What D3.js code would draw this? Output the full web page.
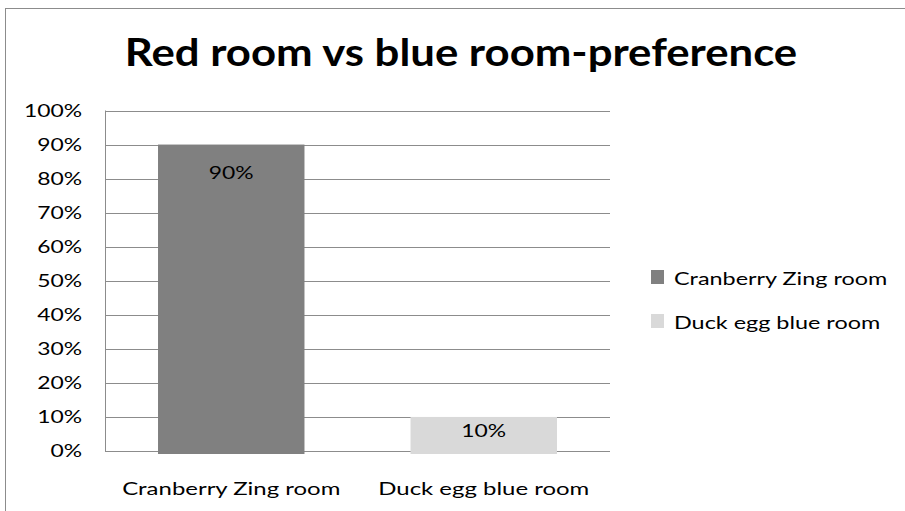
<!DOCTYPE html>
<html>
<head>
<meta charset="utf-8">
<script src="https://cdn.jsdelivr.net/npm/d3@7"></script>
<style>
  html, body { margin: 0; padding: 0; background: #fff; }
  svg { display: block; font-family: Lato, "Open Sans", sans-serif; }
</style>
</head>
<body>
<svg id="chart" width="905" height="511"></svg>
<script>
// Room preference survey
const categories = ["Cranberry Zing room", "Duck egg blue room"];
const shares = [0.9, 0.1];
const barColors = ["#808080", "#d9d9d9"];
const yTicks = [0, 0.1, 0.2, 0.3, 0.4, 0.5, 0.6, 0.7, 0.8, 0.9, 1.0];
const title = "Red room vs blue room-preference";

const svg = d3.select("#chart");

// Widen glyphs horizontally to get the broad, Calibri-like look
function stretch(sel, factor) {
  sel.each(function () {
    const w = this.getComputedTextLength();
    d3.select(this)
      .attr("textLength", w * factor)
      .attr("lengthAdjust", "spacingAndGlyphs");
  });
}

// Outer chart frame
svg.append("rect")
  .attr("x", 5.5).attr("y", 8.5)
  .attr("width", 1000).attr("height", 1000)
  .attr("fill", "none").attr("stroke", "#8c8c8c").attr("stroke-width", 1);

const plot = { left: 105, right: 610, top: 110.5, bottom: 451 };

const x = d3.scaleBand()
  .domain(categories)
  .range([plot.left, plot.right])
  .paddingInner(0.42)
  .paddingOuter(0.21);

const y = d3.scaleLinear().domain([0, 1]).range([plot.bottom, plot.top]);

// Horizontal gridlines
svg.append("g")
  .selectAll("line")
  .data(yTicks)
  .join("line")
  .attr("x1", plot.left).attr("x2", plot.right)
  .attr("y1", d => Math.round(y(d)) + 0.5).attr("y2", d => Math.round(y(d)) + 0.5)
  .attr("stroke", "#8c8c8c").attr("stroke-width", 1);

// Y axis with percentage labels
const yAxis = d3.axisLeft(y)
  .tickValues(yTicks)
  .tickFormat(d3.format(".0%"))
  .tickSize(0)
  .tickPadding(0);
const gy = svg.append("g")
  .attr("transform", `translate(${plot.left - 23},0)`)
  .call(yAxis);
gy.select(".domain").remove();
gy.selectAll("text")
  .attr("font-family", "Lato, sans-serif")
  .attr("font-size", 18)
  .attr("fill", "#000")
  .call(stretch, 1.27);

// Vertical axis line
svg.append("line")
  .attr("x1", plot.left + 0.5).attr("x2", plot.left + 0.5)
  .attr("y1", plot.top).attr("y2", plot.bottom)
  .attr("stroke", "#8c8c8c");

// Bars
svg.append("g")
  .selectAll("rect")
  .data(categories)
  .join("rect")
  .attr("x", d => x(d))
  .attr("width", x.bandwidth())
  .attr("y", (d, i) => y(shares[i]))
  .attr("height", (d, i) => y(0) - y(shares[i]) + 3)
  .attr("fill", (d, i) => barColors[i]);

// Value labels inside bars, near the top end
svg.append("g")
  .selectAll("text")
  .data(categories)
  .join("text")
  .attr("x", d => x(d) + x.bandwidth() / 2)
  .attr("y", (d, i) => y(shares[i]) + Math.min(34, (y(0) - y(shares[i])) * 0.6))
  .attr("text-anchor", "middle")
  .attr("font-size", 18)
  .attr("fill", "#000")
  .text((d, i) => d3.format(".0%")(shares[i]))
  .call(stretch, 1.27);

// Category labels
const xAxis = d3.axisBottom(x).tickSize(0).tickPadding(0);
const gx = svg.append("g")
  .attr("transform", `translate(0,${plot.bottom + 31})`)
  .call(xAxis);
gx.select(".domain").remove();
gx.selectAll("text")
  .attr("font-family", "Lato, sans-serif")
  .attr("font-size", 18)
  .attr("fill", "#000")
  .call(stretch, 1.33);

// Title
svg.append("text")
  .attr("x", 461).attr("y", 66)
  .attr("text-anchor", "middle")
  .attr("font-size", 38)
  .attr("font-weight", "bold")
  .attr("fill", "#000")
  .text(title)
  .call(stretch, 1.15);

// Legend
const legend = svg.append("g")
  .selectAll("g")
  .data(categories)
  .join("g")
  .attr("transform", (d, i) => `translate(651,${270 + i * 44})`);
legend.append("rect")
  .attr("width", 13).attr("height", 14)
  .attr("fill", (d, i) => barColors[i]);
legend.append("text")
  .attr("x", 23).attr("y", 14.5)
  .attr("font-size", 18)
  .attr("fill", "#000")
  .text(d => d)
  .call(stretch, 1.3);
</script>
</body>
</html>
